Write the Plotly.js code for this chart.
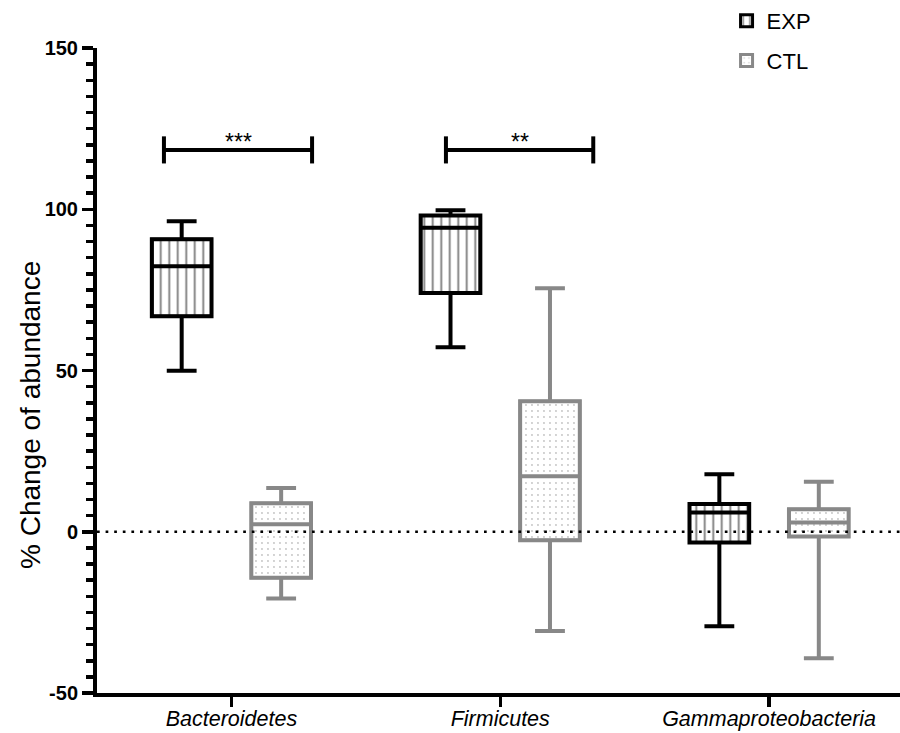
<!DOCTYPE html>
<html>
<head>
<meta charset="utf-8">
<script src="https://cdn.plot.ly/plotly-3.0.1.min.js"></script>
<style>html,body{margin:0;padding:0;background:#fff;}#chart{width:900px;height:733px;}</style>
</head>
<body>
<div id="chart"></div>
<script>
// ---- data ----
const categories = ['Bacteroidetes', 'Firmicutes', 'Gammaproteobacteria'];

const expLower  = [49.9, 57.2, -29.3];
const expQ1     = [66.8, 74.0, -3.3];
const expMedian = [82.3, 94.3, 6.0];
const expQ3     = [90.7, 98.1, 8.6];
const expUpper  = [96.3, 99.7, 17.8];

const ctlLower  = [-20.7, -30.8, -39.2];
const ctlQ1     = [-14.3, -2.6, -1.5];
const ctlMedian = [2.3, 17.2, 2.9];
const ctlQ3     = [8.8, 40.5, 7.0];
const ctlUpper  = [13.6, 75.5, 15.5];

const yTickVals = [-50, 0, 50, 100, 150];
const yTickText = ['-50', '0', '50', '100', '150'];
const yTitle = '% Change of abundance';

// significance brackets: [x start, x end] in category units, level, label
const sigX0 = [-0.251, 0.798];
const sigX1 = [0.300, 1.346];
const sigY = [118.4, 118.4];
const sigLabel = ['***', '**'];

// ---- styling ----
const EXP_COLOR = '#000000';
const CTL_COLOR = '#888888';
const LW = 4;
const FONT = 'Liberation Sans, Arial, sans-serif';

function boxTrace(name, color, lo, q1, med, q3, hi) {
  return {
    type: 'box', name: name, x: categories,
    q1: q1, median: med, q3: q3, lowerfence: lo, upperfence: hi,
    boxpoints: false, fillcolor: 'rgba(0,0,0,0)',
    line: {color: color, width: LW}, whiskerwidth: 0.5,
    showlegend: false, hoverinfo: 'skip'
  };
}
function barTrace(name, color, q1, q3, pattern) {
  return {
    type: 'bar', name: name, x: categories,
    base: q1, y: q3.map((v, i) => v - q1[i]),
    marker: {color: '#ffffff', line: {color: color, width: 3}, pattern: pattern},
    legendgroup: name, hoverinfo: 'skip'
  };
}

const traces = [
  barTrace('EXP', EXP_COLOR, expQ1, expQ3,
    {shape: '|', fgcolor: EXP_COLOR, bgcolor: '#ffffff', size: 8.5, solidity: 0.22, fillmode: 'overlay'}),
  barTrace('CTL', CTL_COLOR, ctlQ1, ctlQ3,
    {shape: '.', fgcolor: CTL_COLOR, bgcolor: '#ffffff', size: 6, solidity: 0.08, fillmode: 'overlay'}),
  boxTrace('EXP', EXP_COLOR, expLower, expQ1, expMedian, expQ3, expUpper),
  boxTrace('CTL', CTL_COLOR, ctlLower, ctlQ1, ctlMedian, ctlQ3, ctlUpper)
];

const shapes = [{
  type: 'line', xref: 'paper', yref: 'y', x0: 0, x1: 1, y0: 0, y1: 0,
  line: {color: '#000', width: 2.7, dash: '2.7px,5.9px'}, layer: 'above'
}];
const annotations = [{
  xref: 'paper', yref: 'paper', x: 0, y: 0.431, xshift: -67, textangle: -90,
  text: yTitle, showarrow: false, xanchor: 'center', yanchor: 'middle',
  font: {family: FONT, size: 28, color: '#000'}
}];
sigX0.forEach((x0, i) => {
  const x1 = sigX1[i], y = sigY[i];
  shapes.push({type: 'line', xref: 'x', yref: 'y', x0: x0, x1: x1, y0: y, y1: y, line: {color: '#000', width: LW}});
  shapes.push({type: 'line', xref: 'x', yref: 'y', x0: x0, x1: x0, y0: y - 4.2, y1: y + 4.2, line: {color: '#000', width: 4}});
  shapes.push({type: 'line', xref: 'x', yref: 'y', x0: x1, x1: x1, y0: y - 4.2, y1: y + 4.2, line: {color: '#000', width: 4}});
  annotations.push({
    xref: 'x', yref: 'y', x: (x0 + x1) / 2, y: y, text: sigLabel[i], showarrow: false,
    yanchor: 'bottom', yshift: -7, font: {family: FONT, size: 23, color: '#000'}
  });
});

const layout = {
  width: 900, height: 733,
  margin: {l: 97, r: 0, t: 46, b: 40},
  paper_bgcolor: '#fff', plot_bgcolor: '#fff',
  font: {family: FONT, color: '#000'},
  boxmode: 'group', boxgap: 0.26, boxgroupgap: 0.4,
  barmode: 'group', bargap: 0.26, bargroupgap: 0.4,
  showlegend: true,
  legend: {
    x: 0.784, y: 1.075, xanchor: 'left', yanchor: 'top',
    font: {size: 22, color: '#000'}, traceorder: 'grouped', tracegroupgap: 8,
    bgcolor: 'rgba(0,0,0,0)'
  },
  xaxis: {
    type: 'category', range: [-0.5, 2.487],
    showline: true, linecolor: '#000', linewidth: 4,
    ticks: 'outside', ticklen: 10, tickwidth: 3.5, tickcolor: '#000',
    ticklabelstandoff: -7,
    tickfont: {size: 21.5, style: 'italic', color: '#000'},
    showgrid: false, zeroline: false, fixedrange: true
  },
  yaxis: {
    range: [-50, 150], tickvals: yTickVals, ticktext: yTickText,
    showline: true, linecolor: '#000', linewidth: 4,
    ticks: 'outside', ticklen: 11, tickwidth: 3.5, tickcolor: '#000',
    minor: {dtick: 5, ticks: 'outside', ticklen: 7, tickwidth: 3.5, tickcolor: '#000'},
    tickfont: {size: 20, weight: 'bold', color: '#000'},
    showgrid: false, zeroline: false, fixedrange: true
  },
  shapes: shapes,
  annotations: annotations
};

Plotly.newPlot('chart', traces, layout, {displayModeBar: false, staticPlot: true});
</script>
</body>
</html>
